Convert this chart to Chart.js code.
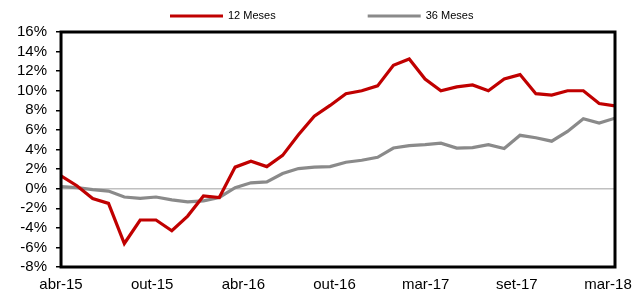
<!DOCTYPE html>
<html>
<head>
<meta charset="utf-8">
<script src="https://cdn.jsdelivr.net/npm/chart.js@4.4.1/dist/chart.umd.min.js"></script>
<style>
  html, body { margin: 0; padding: 0; background: #fff; }
  #wrap { width: 633px; height: 291px; position: relative; }
</style>
</head>
<body>
<div id="wrap"><canvas id="chart"></canvas></div>
<script>
// monthly series, abr-15 .. mar-18
const months = [
    'abr-15', 'mai-15', 'jun-15', 'jul-15', 'ago-15', 'set-15', 'out-15', 'nov-15', 'dez-15',
    'jan-16', 'fev-16', 'mar-16', 'abr-16', 'mai-16', 'jun-16', 'jul-16', 'ago-16', 'set-16',
    'out-16', 'nov-16', 'dez-16', 'jan-17', 'fev-17', 'mar-17', 'abr-17', 'mai-17', 'jun-17',
    'jul-17', 'ago-17', 'set-17', 'out-17', 'nov-17', 'dez-17', 'jan-18', 'fev-18', 'mar-18'
];
const meses12 = [
    1.3, 0.3, -1.0, -1.5, -5.6, -3.2, -3.2, -4.3, -2.8,
    -0.75, -0.9, 2.2, 2.8, 2.25, 3.4, 5.5, 7.4, 8.5,
    9.7, 10.0, 10.5, 12.6, 13.25, 11.2, 10.0, 10.4, 10.6,
    10.0, 11.2, 11.65, 9.7, 9.55, 10.0, 10.0, 8.7, 8.45
];
const meses36 = [
    0.2, 0.1, -0.1, -0.25, -0.85, -1.0, -0.85, -1.15, -1.35,
    -1.25, -0.9, 0.1, 0.6, 0.7, 1.55, 2.05, 2.2, 2.25,
    2.7, 2.9, 3.2, 4.15, 4.4, 4.5, 4.65, 4.15, 4.2,
    4.5, 4.1, 5.45, 5.2, 4.85, 5.85, 7.15, 6.7, 7.2
];
const seriesNames = ['12 Meses', '36 Meses'];
const tickLabels = ['abr-15', 'out-15', 'abr-16', 'out-16', 'mar-17', 'set-17', 'mar-18'];

const toPoints = arr => arr.map((v, i) => ({ x: i, y: v }));
const tickStep = 5.76;

// frame round the plot area
const frame = {
    id: 'frame',
    afterDatasetsDraw(chart) {
        const a = chart.chartArea, ctx = chart.ctx;
        ctx.save();
        ctx.strokeStyle = '#000';
        ctx.lineWidth = 3;
        ctx.strokeRect(a.left, a.top, a.right - a.left, a.bottom - a.top);
        ctx.restore();
    }
};

// legend with line samples
const lineLegend = {
    id: 'lineLegend',
    afterDraw(chart) {
        const ctx = chart.ctx;
        let x = 170;
        const y = 16;
        ctx.save();
        ctx.font = '11px "Liberation Sans", Arial, sans-serif';
        ctx.textBaseline = 'middle';
        chart.data.datasets.forEach(ds => {
            ctx.strokeStyle = ds.borderColor;
            ctx.lineWidth = 3;
            ctx.beginPath();
            ctx.moveTo(x, y);
            ctx.lineTo(x + 53, y);
            ctx.stroke();
            ctx.fillStyle = '#000';
            ctx.fillText(ds.label, x + 58, y);
            x += 58 + ctx.measureText(ds.label).width + 92;
        });
        ctx.restore();
    }
};

const ctx = document.getElementById('chart').getContext('2d');
new Chart(ctx, {
    type: 'line',
    data: {
        datasets: [{
            label: seriesNames[0],
            data: toPoints(meses12),
            borderColor: '#C00000',
            borderWidth: 3.2,
            pointRadius: 0,
            tension: 0
        }, {
            label: seriesNames[1],
            data: toPoints(meses36),
            borderColor: '#8A8A8A',
            borderWidth: 3.2,
            pointRadius: 0,
            tension: 0
        }]
    },
    options: {
        responsive: true,
        maintainAspectRatio: false,
        animation: false,
        layout: {
            padding: { top: 32, right: 18, left: 8, bottom: 0 }
        },
        plugins: {
            legend: { display: false },
            tooltip: { enabled: false }
        },
        scales: {
            x: {
                type: 'linear',
                min: 0,
                max: months.length - 1,
                afterBuildTicks: axis => {
                    axis.ticks = tickLabels.map((_, k) => ({ value: k * tickStep }));
                },
                afterFit: axis => {
                    axis.height = 24;
                    axis.paddingLeft = 0;
                    axis.paddingRight = 0;
                },
                ticks: {
                    autoSkip: false,
                    maxRotation: 0,
                    padding: 9,
                    color: '#000',
                    font: { family: '"Liberation Sans", Arial, sans-serif', size: 15 },
                    callback: (value, index) => tickLabels[index]
                },
                grid: { display: false, drawTicks: false },
                border: { display: false }
            },
            y: {
                min: -8,
                max: 16,
                ticks: {
                    stepSize: 2,
                    autoSkip: false,
                    padding: 9,
                    color: '#000',
                    font: { family: '"Liberation Sans", Arial, sans-serif', size: 15 },
                    callback: value => value + '%'
                },
                grid: {
                    color: c => c.tick && c.tick.value === 0 ? '#C0C0C0' : 'rgba(0,0,0,0)',
                    lineWidth: 1.5,
                    tickColor: '#000',
                    tickLength: 5,
                    tickWidth: 1.5
                },
                border: { display: false }
            }
        }
    },
    plugins: [frame, lineLegend]
});
</script>
</body>
</html>
